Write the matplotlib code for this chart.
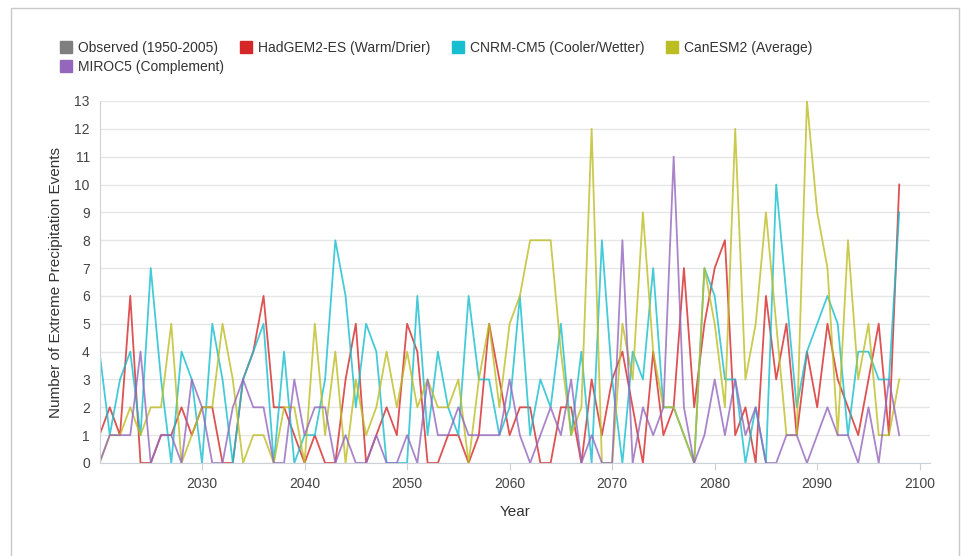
import matplotlib
matplotlib.use("Agg")
import matplotlib.pyplot as plt
from matplotlib.patches import Rectangle
from matplotlib.lines import Line2D
import numpy as np

# projected yearly counts of extreme precipitation events, 2020-2098
years = np.arange(2020, 2099)

hadgem = [1, 2, 1, 6, 0, 0, 1, 1, 2, 1,
          2, 2, 0, 0, 3, 4, 6, 2, 2, 1,
          0, 1, 0, 0, 3, 5, 0, 1, 2, 1,
          5, 4, 0, 0, 1, 1, 0, 1, 5, 3,
          1, 2, 2, 0, 0, 2, 2, 0, 3, 1,
          3, 4, 2, 0, 4, 1, 2, 7, 2, 5,
          7, 8, 1, 2, 0, 6, 3, 5, 1, 4,
          2, 5, 3, 2, 1, 3, 5, 1, 10]

cnrm = [4, 1, 3, 4, 1, 7, 3, 0, 4, 3,
        0, 5, 3, 0, 3, 4, 5, 0, 4, 0,
        1, 1, 3, 8, 6, 2, 5, 4, 0, 0,
        0, 6, 1, 4, 2, 1, 6, 3, 3, 1,
        2, 6, 1, 3, 2, 5, 1, 4, 0, 8,
        3, 0, 4, 3, 7, 2, 2, 1, 0, 7,
        6, 3, 3, 0, 2, 0, 10, 6, 2, 4,
        5, 6, 5, 1, 4, 4, 3, 3, 9]

canesm = [0, 1, 1, 2, 1, 2, 2, 5, 0, 1,
          2, 2, 5, 3, 0, 1, 1, 0, 2, 2,
          0, 5, 1, 4, 0, 3, 1, 2, 4, 2,
          4, 2, 3, 2, 2, 3, 0, 3, 5, 2,
          5, 6, 8, 8, 8, 4, 1, 2, 12, 0,
          0, 5, 3, 9, 4, 2, 2, 1, 0, 7,
          5, 2, 12, 3, 5, 9, 5, 1, 1, 13,
          9, 7, 1, 8, 3, 5, 1, 1, 3]

miroc = [0, 1, 1, 1, 4, 0, 1, 1, 0, 3,
         2, 0, 0, 2, 3, 2, 2, 0, 0, 3,
         1, 2, 2, 0, 1, 0, 0, 1, 0, 0,
         1, 0, 3, 1, 1, 2, 1, 1, 1, 1,
         3, 1, 0, 1, 2, 1, 3, 0, 1, 0,
         0, 8, 0, 2, 1, 2, 11, 2, 0, 1,
         3, 1, 3, 1, 2, 0, 0, 1, 1, 0,
         1, 2, 1, 1, 0, 2, 0, 3, 1]

labels = ["Observed (1950-2005)", "HadGEM2-ES (Warm/Drier)",
          "CNRM-CM5 (Cooler/Wetter)", "CanESM2 (Average)",
          "MIROC5 (Complement)"]
colors = ["#7f7f7f", "#d62728", "#17becf", "#bcbd22", "#9467bd"]

plt.rcParams['font.family'] = ['Liberation Sans', 'DejaVu Sans']

fig = plt.figure(figsize=(9.61, 5.56), dpi=100)
W, H = 961, 556

# thin frame around the whole chart
fig.patches.append(Rectangle((11 / W, -0.01), (959 - 11) / W, 1 - 8 / H + 0.01,
                             transform=fig.transFigure, fill=False,
                             edgecolor="#c8c8c8", linewidth=1.0))

ax = fig.add_axes([99.5 / W, 1 - 463 / H, (930 - 99.5) / W, (463 - 101) / H])

series = [hadgem, cnrm, canesm, miroc]
for vals, c in zip(series, colors[1:]):
    ax.plot(years, vals, color=c, linewidth=1.3, alpha=0.8)

ax.set_xlim(2020, 2101)
ax.set_ylim(0, 13)
ax.set_yticks(range(0, 14))
ax.set_xticks(range(2030, 2101, 10))
ax.grid(axis="y", color="#e6e6e6", linewidth=1.0)
ax.set_axisbelow(True)

for side in ["top", "right"]:
    ax.spines[side].set_visible(False)
ax.spines["left"].set_color("#ccd0d8")
ax.spines["bottom"].set_color("#ccd0d8")
ax.tick_params(axis="y", length=0, pad=7, labelsize=10, labelcolor="#444444")
ax.tick_params(axis="x", length=5, color="#ccd0d8", pad=5, labelsize=10,
               labelcolor="#444444")

ax.set_xlabel("Year", fontsize=11, color="#333333", labelpad=10)
ax.set_ylabel("Number of Extreme Precipitation Events", fontsize=11,
              color="#333333", labelpad=8)

# legend laid out row by row: four entries on top, one below
def swatch(c):
    return Line2D([], [], marker="s", linestyle="none", markersize=8,
                  markerfacecolor=c, markeredgecolor=c)

leg_kw = dict(loc="upper left", frameon=False, fontsize=10, handletextpad=0.4,
              columnspacing=1.55, handlelength=0.9, labelcolor="#333333",
              borderaxespad=0, borderpad=0)
fig.legend([swatch(c) for c in colors[:4]], labels[:4], ncol=4,
           bbox_to_anchor=(60 / W, 1 - 41 / H), **leg_kw)
fig.legend([swatch(colors[4])], labels[4:], ncol=1,
           bbox_to_anchor=(60 / W, 1 - 60 / H), **leg_kw)

fig.savefig("out.png", dpi=100)
